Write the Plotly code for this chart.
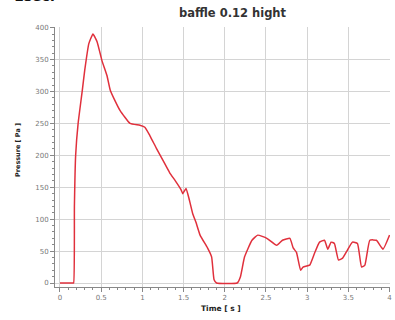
import plotly.graph_objects as go

time_s = [0, 0.15, 0.165, 0.175, 0.19, 0.22, 0.27, 0.30, 0.35, 0.40, 0.45, 0.51, 0.57, 0.61, 0.67, 0.73,
          0.85, 0.97, 1.03, 1.09, 1.17, 1.25, 1.33, 1.40, 1.47, 1.49, 1.53, 1.57, 1.61, 1.65, 1.70,
          1.79, 1.84, 1.87, 1.90, 2.15, 2.19, 2.24, 2.33, 2.40, 2.51, 2.63, 2.70, 2.79, 2.83, 2.87,
          2.92, 2.95, 3.03, 3.09, 3.15, 3.21, 3.25, 3.29, 3.33, 3.38, 3.43, 3.49, 3.55, 3.61, 3.66,
          3.70, 3.76, 3.84, 3.92, 4.0]
pressure_pa = [0, 0, 0, 120, 200, 250, 301, 333, 375, 390, 378, 348, 325, 302, 285, 270,
               250, 247, 244, 231, 211, 192, 173, 160, 146, 140, 148, 130, 109, 95, 75,
               55, 41, 5, 0, 0, 10, 41, 67, 75, 70, 59, 67, 70, 55, 48,
               20, 25, 28, 47, 64, 67, 53, 64, 62, 36, 39, 52, 64, 62, 25,
               28, 67, 67, 53, 75]

x_ticks = [0, 0.5, 1, 1.5, 2, 2.5, 3, 3.5, 4]
x_tick_labels = ["0", "0.5", "1", "1.5", "2", "2.5", "3", "3.5", "4"]
y_ticks = [0, 50, 100, 150, 200, 250, 300, 350, 400]

fig = go.Figure()
fig.add_trace(go.Scatter(x=time_s, y=pressure_pa, mode="lines",
                         line=dict(color="#e0303c", width=1.5, shape="spline", smoothing=0.4),
                         showlegend=False, cliponaxis=False))

font_family = "DejaVu Sans, Verdana, sans-serif"
# plot area targeted at x 55..390, y 27..287 in the window
fig.update_layout(
    width=395, height=320,
    margin=dict(l=55, r=5, t=27, b=33, autoexpand=False),
    paper_bgcolor="white", plot_bgcolor="white",
    font=dict(family=font_family, size=7, color="#666"),
    xaxis=dict(range=[-0.0606, 4.005], tickvals=x_ticks, ticktext=x_tick_labels,
               automargin=False,
               showgrid=True, gridcolor="#d4d4d4", gridwidth=1, zeroline=False,
               showline=True, linecolor="#888", linewidth=1,
               ticks="outside", ticklen=4, tickcolor="#888",
               minor=dict(dtick=0.1, ticks="outside", ticklen=2, tickcolor="#888", showgrid=False),
               tickfont=dict(size=7, color="#777")),
    yaxis=dict(range=[-6.25, 401], tickvals=y_ticks,
               automargin=False,
               showgrid=True, gridcolor="#d4d4d4", gridwidth=1, zeroline=False,
               showline=True, linecolor="#888", linewidth=1,
               ticks="outside", ticklen=4, tickcolor="#888",
               minor=dict(dtick=10, ticks="outside", ticklen=2, tickcolor="#888", showgrid=False),
               tickfont=dict(size=7, color="#777")),
    annotations=[
        dict(text="<b>baffle 0.12 hight</b>", xref="paper", yref="paper",
             x=(233 - 55) / 335, y=1 + (27 - 13) / 260, xanchor="center", yanchor="middle",
             showarrow=False, font=dict(size=11.5, color="#333", family=font_family)),
        dict(text="<b>Time [ s ]</b>", xref="paper", yref="paper",
             x=(221 - 55) / 335, y=-(308 - 287) / 260, xanchor="center", yanchor="middle",
             showarrow=False, font=dict(size=7.5, color="#222", family=font_family)),
        dict(text="<b>Pressure [ Pa ]</b>", xref="paper", yref="paper",
             x=-(55 - 18) / 335, y=(287 - 150) / 260, xanchor="center", yanchor="middle",
             textangle=-90, showarrow=False, font=dict(size=6.5, color="#222", family=font_family)),
        dict(text="<b>1sec.</b>", xref="paper", yref="paper",
             x=-(55 - 12) / 335, y=1 + (27 - 6) / 260, xanchor="left", yanchor="bottom",
             showarrow=False, font=dict(size=14, color="#111", family=font_family)),
    ],
)

fig.write_html("out.html", config={"displayModeBar": False},
               post_script="document.body.style.margin='0px';")
